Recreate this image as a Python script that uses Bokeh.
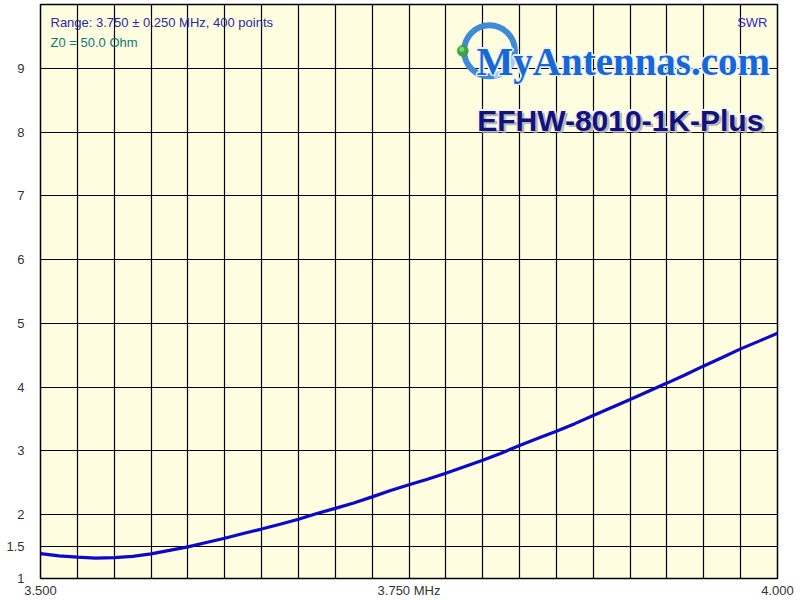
from bokeh.plotting import figure
from bokeh.models import FixedTicker, Label, Range1d
from bokeh.embed import file_html
from bokeh.resources import INLINE

# ---- data ----
freq_mhz = [3.5000, 3.5125, 3.5250, 3.5375, 3.5500, 3.5625, 3.5750, 3.5875,
            3.6000, 3.6125, 3.6250, 3.6375, 3.6500, 3.6625, 3.6750, 3.6875,
            3.7000, 3.7125, 3.7250, 3.7375, 3.7500, 3.7625, 3.7750, 3.7875,
            3.8000, 3.8125, 3.8250, 3.8375, 3.8500, 3.8625, 3.8750, 3.8875,
            3.9000, 3.9125, 3.9250, 3.9375, 3.9500, 3.9625, 3.9750, 3.9875,
            4.0000]
swr = [1.390, 1.354, 1.334, 1.320, 1.326, 1.348, 1.386, 1.440,
       1.496, 1.565, 1.632, 1.706, 1.775, 1.850, 1.930, 2.020,
       2.100, 2.185, 2.280, 2.380, 2.470, 2.557, 2.650, 2.752,
       2.854, 2.965, 3.085, 3.198, 3.310, 3.428, 3.555, 3.682,
       3.806, 3.935, 4.064, 4.195, 4.333, 4.466, 4.600, 4.722,
       4.845]

x_tick_values = [3.5, 3.75, 4.0]
x_tick_labels = ["3.500", "3.750 MHz", "4.000"]
y_tick_values = [1, 1.5, 2, 3, 4, 5, 6, 7, 8, 9]
y_tick_labels = ["1", "1.5", "2", "3", "4", "5", "6", "7", "8", "9"]
x_grid_values = [round(3.5 + 0.025 * i, 4) for i in range(21)]
y_grid_values = [1.5, 2, 3, 4, 5, 6, 7, 8, 9]

info_range = "Range: 3.750 \u00b1 0.250 MHz, 400 points"
info_z0 = "Z0 = 50.0 Ohm"
info_trace = "SWR"
logo_text = "MyAntennas.com"
model_text = "EFHW-8010-1K-Plus"

# ---- layout ----
W, H = 800, 600
B_LEFT, B_RIGHT, B_TOP, B_BOTTOM = 40, 23, 4, 20
Y0, Y1 = 1.0, 10.0
frame_w = W - B_LEFT - B_RIGHT
frame_h = H - B_TOP - B_BOTTOM
x_per_px = 0.5 / frame_w
y_per_px = (Y1 - Y0) / frame_h

p = figure(width=W, height=H, x_range=Range1d(3.5, 4.0), y_range=Range1d(Y0, Y1),
           output_backend="svg", toolbar_location=None,
           min_border_left=B_LEFT, min_border_right=B_RIGHT,
           min_border_top=B_TOP, min_border_bottom=B_BOTTOM)

p.background_fill_color = "#fffde0"
p.border_fill_color = "white"
p.outline_line_color = "black"
p.outline_line_width = 1.5

for ax in (p.xaxis[0], p.yaxis[0]):
    ax.axis_line_color = None
    ax.major_tick_line_color = None
    ax.minor_tick_line_color = None
    ax.major_tick_out = 0
    ax.major_tick_in = 0
    ax.minor_tick_out = 0
    ax.minor_tick_in = 0
    ax.major_label_text_font = "Liberation Sans"
    ax.major_label_text_font_size = "13px"
    ax.major_label_text_color = "#333333"

p.xaxis[0].ticker = FixedTicker(ticks=x_tick_values)
p.xaxis[0].major_label_overrides = {v: l for v, l in zip(x_tick_values, x_tick_labels)}
p.xaxis[0].major_label_standoff = 4
p.yaxis[0].ticker = FixedTicker(ticks=y_tick_values)
p.yaxis[0].major_label_overrides = {v: l for v, l in zip(y_tick_values, y_tick_labels)}
p.yaxis[0].major_label_standoff = 16

p.xgrid[0].ticker = FixedTicker(ticks=x_grid_values)
p.ygrid[0].ticker = FixedTicker(ticks=y_grid_values)
for g in (p.xgrid[0], p.ygrid[0]):
    g.grid_line_color = "black"
    g.grid_line_alpha = 1.0
    g.grid_line_width = 1.2


def xpg(page_x):
    """page pixel -> frequency"""
    return 3.5 + (page_x - B_LEFT) * x_per_px


def ypg(page_y):
    """page pixel -> SWR"""
    return Y1 - (page_y - B_TOP) * y_per_px


# ---- logo (behind the curve) ----
logo_cx, logo_cy = xpg(489), ypg(50.5)
p.annulus(x=[logo_cx], y=[logo_cy], inner_radius=22.5, outer_radius=28.5,
          inner_radius_units="screen", outer_radius_units="screen",
          fill_color="#3f8bd8", line_color=None)
p.annular_wedge(x=[logo_cx], y=[logo_cy], inner_radius=22.5, outer_radius=28.5,
                inner_radius_units="screen", outer_radius_units="screen",
                start_angle=-1.4, end_angle=-0.2,
                fill_color="#a9cbef", line_color=None)
p.scatter(x=[xpg(462.3)], y=[logo_cy], size=11, marker="circle",
          fill_color="#3aa83a", line_color="#2e8b2e", line_width=0.5)
p.scatter(x=[xpg(461.3)], y=[ypg(49)], size=5, marker="circle",
          fill_color="#8fe08a", line_color=None, fill_alpha=0.8)

logo_x, logo_y = xpg(476), ypg(61)
for dx, dy in [(-1.5, 0), (1.5, 0), (0, 1.5), (0, -1.5), (1, 1), (-1, -1), (1, -1), (-1, 1)]:
    p.add_layout(Label(x=logo_x, y=logo_y, x_offset=dx, y_offset=dy, text=logo_text,
                       text_font="Liberation Serif", text_font_style="bold",
                       text_font_size="39px", text_color="#eef4fc",
                       text_baseline="alphabetic", text_align="left"))
p.add_layout(Label(x=logo_x, y=logo_y, text=logo_text,
                   text_font="Liberation Serif", text_font_style="bold",
                   text_font_size="39px", text_color="#1668d6",
                   text_baseline="alphabetic", text_align="left"))

model_x, model_y = xpg(476.7), ypg(120)
for dx, dy in [(-1.5, 0), (1.5, 0), (0, 1.5), (0, -1.5), (1.5, 1.5), (-1.5, -1.5), (1.5, -1.5), (-1.5, 1.5)]:
    p.add_layout(Label(x=model_x, y=model_y, x_offset=dx, y_offset=dy, text=model_text,
                       text_font="Liberation Sans", text_font_style="bold",
                       text_font_size="30px", text_color="#f4f4f4",
                       text_baseline="alphabetic", text_align="left"))
p.add_layout(Label(x=model_x, y=model_y, x_offset=2.5, y_offset=-2.5, text=model_text,
                   text_font="Liberation Sans", text_font_style="bold",
                   text_font_size="30px", text_color="#a8a8a8", text_alpha=0.8,
                   text_baseline="alphabetic", text_align="left"))
p.add_layout(Label(x=model_x, y=model_y, text=model_text,
                   text_font="Liberation Sans", text_font_style="bold",
                   text_font_size="30px", text_color="#12127e",
                   text_baseline="alphabetic", text_align="left"))

# ---- info texts ----
p.add_layout(Label(x=xpg(50), y=ypg(22), text=info_range,
                   text_font="Liberation Sans", text_font_size="13px",
                   text_color="#2a2aa8", text_baseline="alphabetic", text_align="left"))
p.add_layout(Label(x=xpg(50), y=ypg(42), text=info_z0,
                   text_font="Liberation Sans", text_font_size="13px",
                   text_color="#0a7a7a", text_baseline="alphabetic", text_align="left"))
p.add_layout(Label(x=xpg(767), y=ypg(22), text=info_trace,
                   text_font="Liberation Sans", text_font_size="13px",
                   text_color="#2a2ad0", text_baseline="alphabetic", text_align="right"))

# ---- SWR curve ----
p.line(freq_mhz, swr, line_color="#0a0ac8", line_width=3.2)

open("out.html", "w").write(file_html(p, INLINE))
